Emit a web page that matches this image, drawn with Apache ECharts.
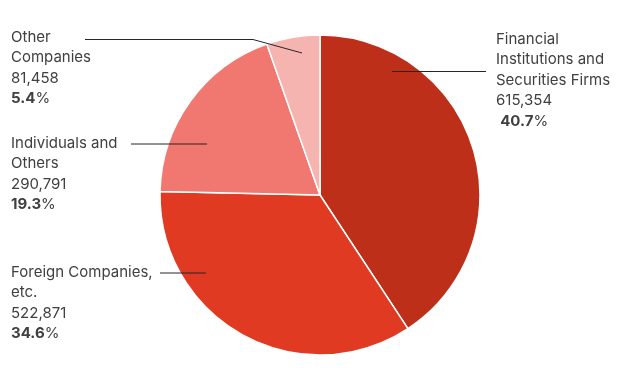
<!DOCTYPE html>
<html><head><meta charset="utf-8">
<script src="https://cdn.jsdelivr.net/npm/echarts@6/dist/echarts.min.js"></script>
<style>html,body{margin:0;padding:0;background:#fff}#c{width:640px;height:390px}</style>
</head><body><div id="c"></div>
<script>
const categories = ['Financial Institutions and Securities Firms', 'Foreign Companies, etc.', 'Individuals and Others', 'Other Companies'];
const labelLines = [['Financial', 'Institutions and', 'Securities Firms'], ['Foreign Companies,', 'etc.'], ['Individuals and', 'Others'], ['Other', 'Companies']];
const values = [615354, 522871, 290791, 81458];
const percents = ['40.7', '34.6', '19.3', '5.4'];
const colors = ['#BE2F1A', '#E03B22', '#F07870', '#F6B4B0'];

// label placement (top-left of text box) and leader line points
const labelPos = [
  {x: 496, y: 29, line: [[392, 71.5], [486, 71.5]], pre: ' '},
  {x: 11, y: 262, line: [[206, 273], [160, 273]], pre: ''},
  {x: 11, y: 133, line: [[207, 144], [131, 144]], pre: ''},
  {x: 11, y: 27, line: [[302, 53], [253, 39.5], [85, 39.5]], pre: ''}
];

const chart = echarts.init(document.getElementById('c'), null, {renderer: 'canvas'});
const fmt = n => n.toLocaleString('en-US');
const font = 'Inter, "Open Sans", sans-serif';
chart.setOption({
  animation: false,
  graphic: labelPos.map(lp => ({
    type: 'polyline', z: 100, silent: true,
    shape: {points: lp.line},
    style: {stroke: '#262626', lineWidth: 1, fill: null}
  })),
  series: [{
    type: 'pie',
    center: [320, 195],
    radius: 160,
    startAngle: 90,
    clockwise: true,
    itemStyle: {borderColor: '#fff', borderWidth: 1.5},
    data: categories.map((c, i) => ({name: c, value: values[i], itemStyle: {color: colors[i]}})),
    label: {
      show: true,
      position: 'outside',
      overflow: 'none',
      width: 200,
      formatter: p => {
        const i = p.dataIndex;
        return labelLines[i].map(s => '{n|' + s + '}').join('\n') + '\n{n|' + fmt(values[i]) + '}\n' + (labelPos[i].pre ? '{n| }' : '') + '{b|' + percents[i] + '}{n|%}';
      },
      rich: {
        n: {fontFamily: font, fontSize: 15, color: '#404040', lineHeight: 20.5},
        b: {fontFamily: font, fontSize: 15, fontWeight: 'bold', color: '#404040', lineHeight: 20.5}
      }
    },
    labelLine: {show: false},
    labelLayout: params => {
      const lp = labelPos[params.dataIndex];
      return {x: lp.x, y: lp.y, align: 'left', verticalAlign: 'top', hideOverlap: false, moveOverlap: false};
    }
  }]
});
</script></body></html>
